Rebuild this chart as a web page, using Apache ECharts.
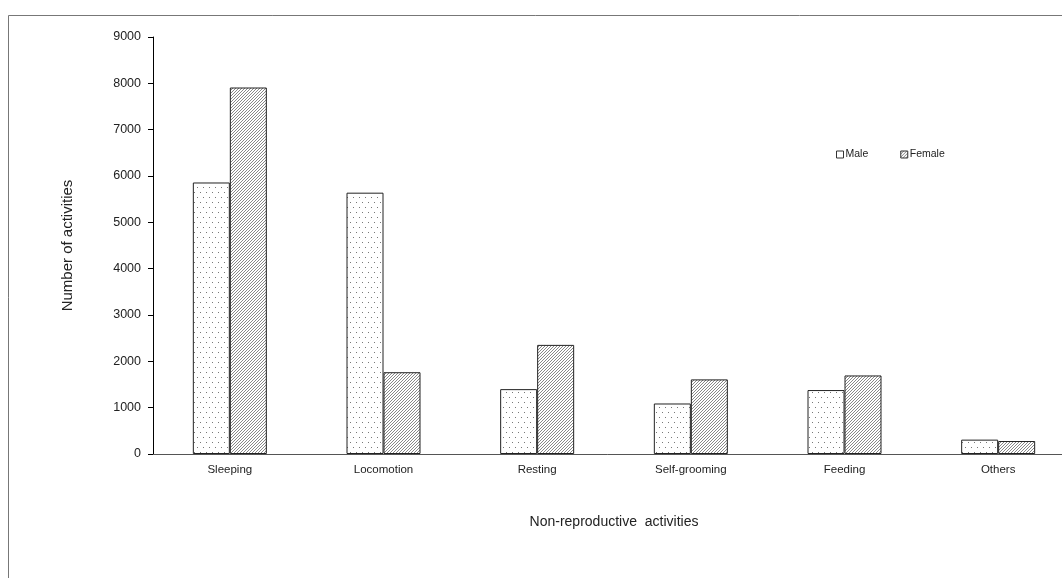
<!DOCTYPE html>
<html>
<head>
<meta charset="utf-8">
<script src="https://cdn.jsdelivr.net/npm/echarts@6/dist/echarts.min.js"></script>
<style>
html,body{margin:0;padding:0;background:#fff;}
#c{width:1062px;height:578px;}
</style>
</head>
<body>
<div id="c"></div>
<script>
var categories = ['Sleeping', 'Locomotion', 'Resting', 'Self-grooming', 'Feeding', 'Others'];
var maleValues = [5860, 5640, 1400, 1090, 1380, 310];
var femaleValues = [7910, 1765, 2355, 1610, 1695, 280];
var seriesNames = ['Male', 'Female'];
var yTicks = { min: 0, max: 9000, interval: 1000 };
var xAxisTitle = 'Non-reproductive  activities';
var yAxisTitle = 'Number of activities';

function dotPattern() {
  var c = document.createElement('canvas');
  c.width = 12; c.height = 10;
  var g = c.getContext('2d');
  g.fillStyle = '#fff'; g.fillRect(0, 0, 12, 10);
  g.fillStyle = '#777';
  g.fillRect(2, 2, 1, 1); g.fillRect(8, 2, 1, 1);
  g.fillRect(5, 7, 1, 1); g.fillRect(11, 7, 1, 1);
  return c;
}
function hatchPattern() {
  var c = document.createElement('canvas');
  c.width = 3; c.height = 3;
  var g = c.getContext('2d');
  g.fillStyle = '#fff'; g.fillRect(0, 0, 3, 3);
  g.fillStyle = '#888';
  for (var i = 0; i < 3; i++) g.fillRect(2 - i, i, 1, 1);
  return c;
}

var chart = echarts.init(document.getElementById('c'));
var font = 'Liberation Sans, Arial, sans-serif';
var malePat = dotPattern(), femalePat = hatchPattern();
chart.setOption({
  animation: false,
  textStyle: { fontFamily: font },
  graphic: [{
    type: 'rect', shape: { x: 8.5, y: 15.5, width: 1100, height: 700 },
    style: { fill: 'none', stroke: '#777', lineWidth: 1 }, z: -1, silent: true
  }],
  legend: {
    left: 831, top: 144, itemWidth: 7, itemHeight: 7, itemGap: 32,
    icon: 'rect',
    textStyle: { fontSize: 10.5, color: '#222', fontFamily: font, padding: [0, 0, 0, -3] },
    data: [
      { name: seriesNames[0], itemStyle: { color: '#fff', borderColor: '#333', borderWidth: 1 } },
      { name: seriesNames[1], itemStyle: { color: { image: femalePat, repeat: 'repeat' }, borderColor: '#333', borderWidth: 1 } }
    ]
  },
  grid: { left: 153, width: 922, top: 37, bottom: 124, containLabel: false, outerBoundsMode: 'none' },
  xAxis: {
    type: 'category', data: categories,
    name: xAxisTitle, nameLocation: 'middle', nameGap: 61,
    nameTextStyle: { fontSize: 14, color: '#222', fontFamily: font },
    axisLine: { lineStyle: { color: '#555', width: 1 } },
    axisTick: { alignWithLabel: true, length: 4, lineStyle: { color: '#555' } },
    axisLabel: { fontSize: 11.5, color: '#222', margin: 10, fontFamily: font },
    nameMoveOverlap: false
  },
  yAxis: {
    type: 'value', min: yTicks.min, max: yTicks.max, interval: yTicks.interval,
    name: yAxisTitle, nameLocation: 'middle', nameGap: 78, nameRotate: 90,
    nameTextStyle: { fontSize: 15, color: '#222', fontFamily: font },
    axisLine: { show: true, lineStyle: { color: '#000', width: 1 } },
    axisTick: { show: true, length: 5, lineStyle: { color: '#000' } },
    axisLabel: { fontSize: 12.5, color: '#222', margin: 12, fontFamily: font,
      formatter: function (v) { return String(v); } },
    splitLine: { show: false },
    nameMoveOverlap: false
  },
  series: [{
    name: seriesNames[0], type: 'bar', data: maleValues,
    barWidth: 37, barGap: '0%',
    itemStyle: { color: { image: malePat, repeat: 'repeat' }, borderColor: '#222', borderWidth: 1 }
  }, {
    name: seriesNames[1], type: 'bar', data: femaleValues,
    barWidth: 37, barGap: '0%',
    itemStyle: { color: { image: femalePat, repeat: 'repeat' }, borderColor: '#222', borderWidth: 1 }
  }]
});
</script>
</body>
</html>
